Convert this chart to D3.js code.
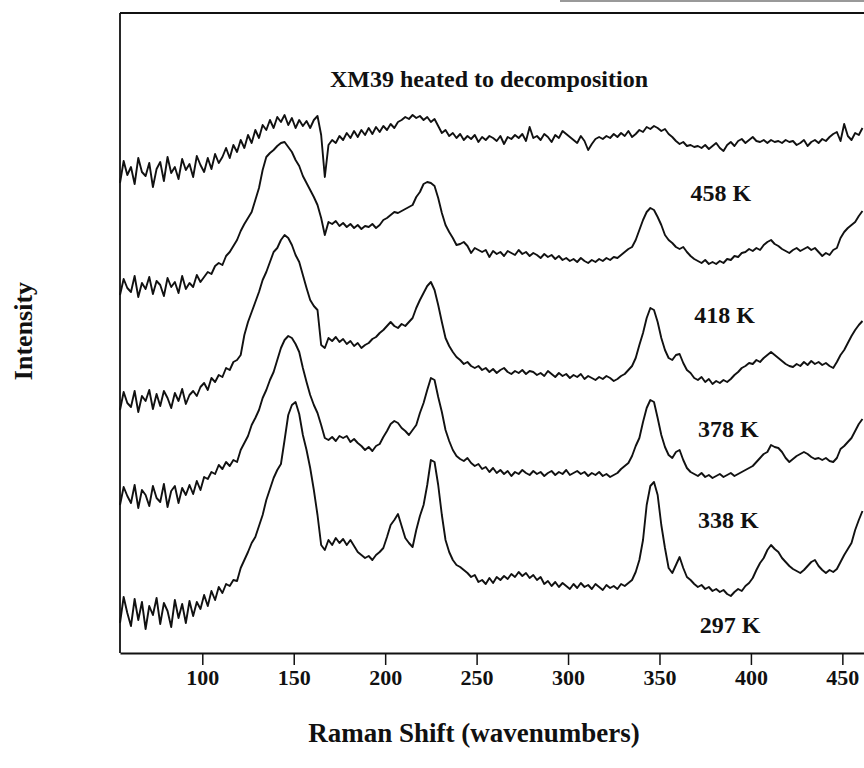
<!DOCTYPE html>
<html>
<head>
<meta charset="utf-8">
<script src="https://cdn.jsdelivr.net/npm/d3@7"></script>
<style>
  body { margin: 0; background: #fff; }
  svg { display: block; }
  text { font-family: "Liberation Serif", "Times New Roman", serif; font-weight: bold; fill: #111; }
</style>
</head>
<body>
<svg id="chart"></svg>
<script>
// Raman shift grid (wavenumbers), one point every 2 cm-1
var shift = d3.range(55, 463, 2);

// stacked intensities (arbitrary units, offsets included as drawn)
var spectrum458 = [
  470,492,478,486,469,495,481,477,490,466,
  484,491,472,496,480,486,474,494,483,489,
  476,497,488,481,495,484,499,490,496,505,
  495,508,501,513,505,518,510,523,515,528,
  523,533,525,536,531,538,528,535,525,533,
  527,532,525,533,537,518,476,508,513,510,
  517,513,520,515,522,516,523,518,525,519,
  526,521,527,523,529,525,531,533,536,534,
  538,535,537,533,536,531,534,527,520,523,
  517,520,515,519,513,517,514,518,511,516,
  513,517,515,512,517,509,516,514,518,515,
  519,512,526,515,517,513,519,516,511,518,
  515,522,519,516,513,510,517,512,503,509,
  514,516,514,517,515,519,516,520,517,522,
  516,519,523,521,526,524,527,525,522,524,
  519,516,512,509,511,507,508,506,507,505,
  508,504,507,510,505,502,508,511,507,512,
  514,510,513,516,512,511,513,510,513,511,
  512,510,513,511,512,508,510,513,507,511,
  513,510,514,512,516,519,521,512,529,517,
  513,520,518,525
];
var spectrum418 = [
  358,374,365,361,377,356,370,364,376,359,
  372,368,357,375,366,371,360,377,364,370,
  366,378,371,376,381,379,387,390,388,397,
  401,407,413,422,429,435,441,453,465,483,
  496,500,503,507,510,511,506,501,493,487,
  477,470,463,456,448,435,418,431,429,432,
  427,430,426,429,425,428,424,427,426,429,
  425,428,433,435,438,441,440,442,444,446,
  448,456,461,469,471,470,467,455,440,428,
  421,415,408,409,411,407,400,405,403,401,
  403,396,402,399,401,397,402,400,398,403,
  399,401,397,400,398,395,399,396,398,394,
  397,393,395,392,394,391,395,392,390,393,
  391,394,392,395,393,396,395,398,401,404,
  406,413,423,433,441,445,443,436,428,418,
  413,410,406,404,406,401,397,394,392,390,
  393,389,391,389,392,390,394,393,397,396,
  400,401,404,402,405,403,408,411,413,409,
  407,404,402,400,403,405,402,404,406,403,
  405,401,397,400,398,403,405,415,421,425,
  428,431,437,442
];
var spectrum378 = [
  243,261,250,246,262,241,257,252,263,244,
  259,247,262,255,245,260,252,264,249,258,
  262,257,266,270,263,275,271,278,276,285,
  283,291,293,298,318,331,341,351,361,373,
  381,391,401,405,413,418,415,408,398,391,
  378,365,353,347,343,308,305,315,312,316,
  311,314,309,312,307,310,305,308,310,314,
  316,320,323,327,331,327,325,329,327,331,
  335,345,353,360,367,371,363,348,331,315,
  307,301,296,293,289,291,287,285,287,283,
  285,281,284,280,283,285,281,279,282,280,
  283,279,282,281,278,280,277,282,279,276,
  280,277,279,275,278,276,279,274,277,275,
  273,276,274,277,275,272,274,277,279,283,
  287,295,308,320,335,345,343,331,315,303,
  295,293,298,299,290,283,280,275,273,276,
  271,274,269,272,270,273,271,274,278,281,
  285,287,290,289,293,291,295,298,301,298,
  295,292,289,287,286,289,287,291,288,292,
  289,291,288,290,287,285,291,298,303,310,
  317,323,328,332
];
var spectrum338 = [
  148,166,157,150,168,145,163,158,147,167,
  155,151,169,146,162,167,150,165,158,168,
  159,172,163,176,174,181,179,188,184,191,
  187,193,191,203,210,217,228,235,243,255,
  263,273,281,293,305,313,317,315,309,301,
  285,271,258,248,240,228,215,213,216,212,
  217,215,217,211,214,210,207,203,206,202,
  207,209,216,222,229,232,230,225,222,218,
  223,228,240,250,263,275,273,256,241,223,
  212,203,197,194,192,195,190,187,189,184,
  186,181,185,180,183,179,182,177,181,179,
  183,180,178,182,179,181,177,180,182,178,
  181,179,183,178,180,182,179,181,177,180,
  178,181,177,179,176,178,180,184,187,190,
  197,207,215,231,245,253,251,235,218,206,
  198,195,201,203,193,185,181,179,177,180,
  176,178,175,177,179,176,178,180,177,179,
  181,183,185,187,191,195,199,201,208,206,
  205,201,195,191,194,197,199,201,199,196,
  194,195,193,195,192,191,195,204,207,211,
  215,222,229,234
];
var spectrum297 = [
  30,56,40,27,54,33,51,24,47,38,
  55,29,50,42,26,53,35,49,30,52,
  37,51,44,58,47,62,53,66,60,69,
  67,73,72,85,93,101,110,116,127,138,
  153,164,175,183,189,213,238,248,251,239,
  218,203,185,163,138,108,103,113,108,115,
  110,114,108,113,107,101,98,95,97,93,
  98,101,105,116,128,133,139,127,115,110,
  106,123,137,148,168,193,191,168,138,113,
  101,93,88,86,83,80,76,78,71,73,
  69,75,70,76,73,77,74,79,76,81,
  77,80,75,78,73,76,69,72,67,71,
  66,70,67,64,69,65,70,66,68,64,
  69,66,63,68,65,67,64,69,67,70,
  73,81,93,113,148,167,171,158,128,105,
  85,80,88,96,85,76,73,69,66,68,
  64,66,62,64,61,63,59,57,61,64,
  62,67,70,75,83,90,95,103,108,104,
  101,95,91,87,84,82,80,83,87,91,
  93,87,83,80,83,81,84,91,98,104,
  110,123,133,142
];
var temperatures = ['458 K', '418 K', '378 K', '338 K', '297 K'];
var tickValues = [100, 150, 200, 250, 300, 350, 400, 450];

var width = 864;
var height = 768;
var plot = { left: 120, right: 864.3, top: 13, bottom: 653 };

var svg = d3.select('#chart')
    .attr('width', width)
    .attr('height', height);

var x = d3.scaleLinear()
    .domain([55, 462])
    .range([plot.left, plot.right]);

var y = d3.scaleLinear()
    .domain([0, 640])
    .range([plot.bottom, plot.top]);

// scan smear along the very top of the page
svg.append('line')
    .attr('x1', 560).attr('x2', width)
    .attr('y1', 1).attr('y2', 1)
    .attr('stroke', '#777')
    .attr('stroke-width', 1.3);

// frame: left and top
svg.append('line')
    .attr('x1', plot.left).attr('x2', plot.left)
    .attr('y1', plot.top).attr('y2', plot.bottom)
    .attr('stroke', '#111')
    .attr('stroke-width', 1.8);

svg.append('line')
    .attr('x1', plot.left).attr('x2', width)
    .attr('y1', plot.top).attr('y2', plot.top)
    .attr('stroke', '#111')
    .attr('stroke-width', 1.8);

// x axis
var xAxis = d3.axisBottom(x)
    .tickValues(tickValues)
    .tickSize(12)
    .tickSizeOuter(0)
    .tickPadding(4)
    .tickFormat(d3.format('d'));

var gx = svg.append('g')
    .attr('transform', 'translate(0,' + plot.bottom + ')')
    .call(xAxis);

gx.select('.domain')
    .attr('stroke', '#111')
    .attr('stroke-width', 1.8);
gx.selectAll('.tick line')
    .attr('stroke', '#111')
    .attr('stroke-width', 1.5);
gx.selectAll('.tick text')
    .attr('font-family', '"Liberation Serif", "Times New Roman", serif')
    .attr('font-weight', 'bold')
    .attr('font-size', '22px')
    .attr('fill', '#111');

// spectra
var series = [spectrum458, spectrum418, spectrum378, spectrum338, spectrum297];

var line = d3.line()
    .x(function(d, i) { return x(shift[i]); })
    .y(function(d) { return y(d); });

svg.append('g')
  .selectAll('path')
  .data(series)
  .enter()
  .append('path')
    .attr('d', line)
    .attr('fill', 'none')
    .attr('stroke', '#111')
    .attr('stroke-width', 1.9)
    .attr('stroke-linejoin', 'round');

// temperature labels, each sitting under its trace
var labelAt = [[367, 452], [369, 330], [371, 216], [371, 125], [372, 20]];

svg.append('g')
  .selectAll('text')
  .data(temperatures)
  .enter()
  .append('text')
    .attr('x', function(d, i) { return x(labelAt[i][0]); })
    .attr('y', function(d, i) { return y(labelAt[i][1]); })
    .attr('font-size', '24px')
    .text(function(d) { return d; });

svg.append('text')
    .attr('x', 489)
    .attr('y', 87)
    .attr('font-size', '24px')
    .style('text-anchor', 'middle')
    .text('XM39 heated to decomposition');

svg.append('text')
    .attr('x', 474)
    .attr('y', 742)
    .attr('font-size', '27px')
    .style('text-anchor', 'middle')
    .text('Raman Shift (wavenumbers)');

svg.append('text')
    .attr('transform', 'rotate(-90)')
    .attr('x', -331)
    .attr('y', 32)
    .attr('font-size', '26px')
    .style('text-anchor', 'middle')
    .text('Intensity');
</script>
</body>
</html>
